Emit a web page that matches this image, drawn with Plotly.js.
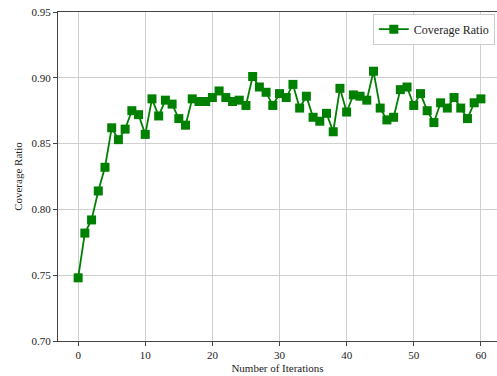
<!DOCTYPE html>
<html>
<head>
<meta charset="utf-8">
<script src="https://cdn.plot.ly/plotly-3.0.1.min.js"></script>
<style>html,body{margin:0;padding:0;background:#fff;}#chart{width:497px;height:376px;}</style>
</head>
<body>
<div id="chart"></div>
<script>
const iterations = Array.from({length: 61}, (_, i) => i);
const coverageRatio = [
  0.748, 0.782, 0.792, 0.814, 0.832, 0.862, 0.853, 0.861, 0.875, 0.872,
  0.857, 0.884, 0.871, 0.883, 0.880, 0.869, 0.864, 0.884, 0.882, 0.882,
  0.885, 0.890, 0.885, 0.882, 0.883, 0.879, 0.901, 0.893, 0.889, 0.879,
  0.888, 0.885, 0.895, 0.877, 0.886, 0.870, 0.867, 0.873, 0.859, 0.892,
  0.874, 0.887, 0.886, 0.883, 0.905, 0.877, 0.868, 0.870, 0.891, 0.893,
  0.879, 0.888, 0.875, 0.866, 0.881, 0.877, 0.885, 0.877, 0.869, 0.881,
  0.884
];
const seriesName = 'Coverage Ratio';
const xTicks = [0, 10, 20, 30, 40, 50, 60];
const yTicks = [0.70, 0.75, 0.80, 0.85, 0.90, 0.95];

const font = {family: '"Liberation Serif", "DejaVu Serif", serif', size: 11, color: '#222'};

Plotly.newPlot('chart', [{
  x: iterations,
  y: coverageRatio,
  name: seriesName,
  type: 'scatter',
  mode: 'lines+markers',
  line: {color: 'green', width: 1.8},
  marker: {symbol: 'square', size: 9, color: 'green'}
}], {
  width: 497, height: 376,
  margin: {l: 58, r: 0, t: 12, b: 35},
  paper_bgcolor: '#fff', plot_bgcolor: '#fff',
  font: font,
  showlegend: true,
  legend: {
    x: 0.995, y: 0.995, xanchor: 'right', yanchor: 'top',
    bgcolor: 'rgba(255,255,255,0.9)', bordercolor: '#ccc', borderwidth: 1,
    font: {family: font.family, size: 12, color: '#222'}
  },
  xaxis: {
    range: [-3, 62.4],
    tickvals: xTicks, ticktext: xTicks.map(String),
    showgrid: true, gridcolor: '#cfcfcf', gridwidth: 1,
    zeroline: false,
    showline: true, linecolor: '#444', linewidth: 1, mirror: true,
    ticks: 'outside', ticklen: 4, tickcolor: '#444',
    title: {text: 'Number of Iterations', font: {family: font.family, size: 11, color: '#222'}, standoff: 4}
  },
  yaxis: {
    range: [0.70, 0.95],
    tickvals: yTicks, ticktext: yTicks.map(v => v.toFixed(2)),
    showgrid: true, gridcolor: '#cfcfcf', gridwidth: 1,
    zeroline: false,
    showline: true, linecolor: '#444', linewidth: 1,
    ticks: 'outside', ticklen: 4, tickcolor: '#444',
    title: {text: 'Coverage Ratio', font: {family: font.family, size: 11, color: '#222'}, standoff: 6}
  }
}, {displayModeBar: false, staticPlot: true});
</script>
</body>
</html>
